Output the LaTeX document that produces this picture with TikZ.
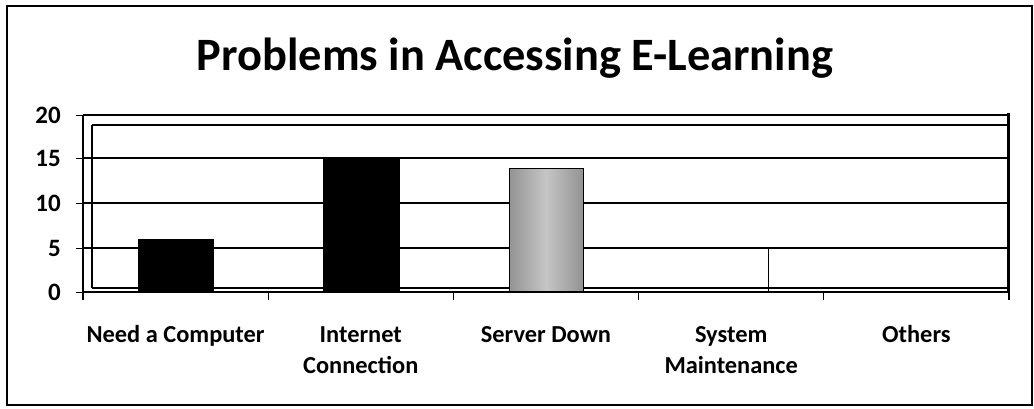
\documentclass[tikz,border=0pt]{standalone}
\usepackage{fontspec}
\setmainfont{Carlito}
\begin{document}
\begin{tikzpicture}[x=1pt,y=-1pt,
  frame/.style={line width=1.6pt},
  grid/.style={line width=1.2pt},
  ylab/.style={anchor=east,inner sep=0pt,font=\fontsize{25}{25}\selectfont\bfseries},
  catlab/.style={anchor=base,inner sep=0pt,align=center,font=\fontsize{24.4}{31}\selectfont\bfseries},
  bar/.style={draw=black,line width=0.8pt}]
% page and outer border
\useasboundingbox (0,0) rectangle (1034,408);
\fill[white] (0,0) rectangle (1034,408);
\draw[frame] (7,6) rectangle (1032,405);
% title
\node[font=\fontsize{46.4}{55}\selectfont\bfseries] (title) at (515,58) {Problems in Accessing E-Learning};
% plot walls and gridlines
\draw[grid] (83,115) -- (1007,115);
\draw[line width=2pt] (92,125) -- (1007,125);
\draw[grid] (92,125) -- (92,288);
\foreach \yy in {158,203,248} \draw[grid] (83,\yy) -- (1007,\yy);
\draw[grid] (92,288) -- (1007,288);
\draw[line width=1.4pt] (83,115) -- (83,292) -- (1009,292);
\draw[line width=3pt] (1008,113) -- (1008,292);
% value axis ticks and labels
\foreach \v/\yy in {20/115,15/158,10/203,5/248,0/292} {
  \draw[line width=1pt] (76,\yy) -- (83,\yy);
  \node[ylab] (y\v) at (61,\yy) {\v};
}
% category ticks
\foreach \xx in {83,268.2,453.4,638.6,823.8,1009} \draw[line width=1.2pt] (\xx,292) -- (\xx,300);
% bars
\draw[bar,fill=black] (138,239) rectangle (213,291);
\draw[bar,fill=black] (323,158) rectangle (399,291);
\shade[left color=gray!85,right color=gray!85,middle color=gray!45] (509,168) rectangle (583,291);
\draw[bar] (509,168) rectangle (583,291);
\fill[white] (694,249) rectangle (768,286.5);
\draw[line width=1pt] (768,248) -- (768,292);
% category labels (base anchor sits on the last line)
\node[catlab] (c1) at (175.6,342) {Need a Computer};
\node[catlab] (c2) at (360.8,373) {Internet\\Connection};
\node[catlab] (c3) at (546,342) {Server Down};
\node[catlab] (c4) at (731.2,373) {System\\Maintenance};
\node[catlab] (c5) at (916.4,342) {Others};
\end{tikzpicture}
\end{document}
